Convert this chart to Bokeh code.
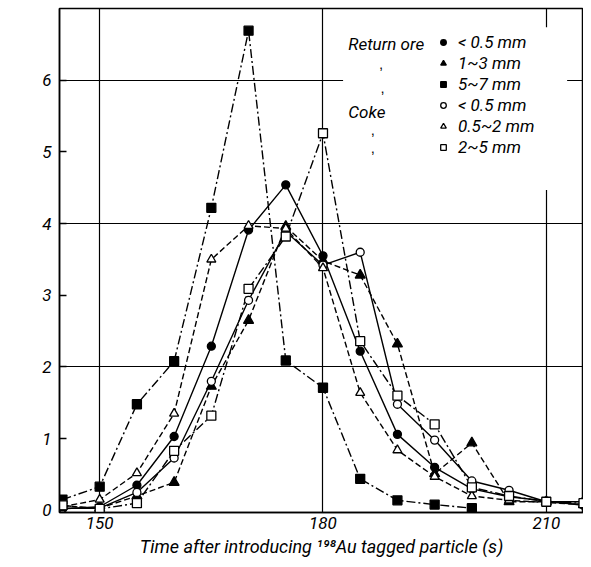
import math
from bokeh.plotting import figure
from bokeh.models import Range1d, FixedTicker, Legend, LegendItem, Label, BoxAnnotation, Grid
from bokeh.embed import file_html
from bokeh.resources import INLINE

# ---- data ----
t_full = [145, 150, 155, 160, 165, 170, 175, 180, 185, 190, 195, 200, 205, 210, 215]
t_short = [145, 150, 155, 160, 165, 170, 175, 180, 185, 190, 195, 200]

ore_lt05 = [0.02, 0.05, 0.35, 1.03, 2.29, 3.91, 4.54, 3.55, 2.22, 1.06, 0.60, 0.30, 0.19, 0.13, 0.07]
ore_1_3 = [0.06, 0.03, 0.20, 0.39, 1.73, 2.65, 3.96, 3.48, 3.28, 2.32, 0.51, 0.94, 0.12, 0.12, 0.08]
ore_5_7 = [0.15, 0.33, 1.48, 2.08, 4.22, 6.69, 2.09, 1.71, 0.44, 0.14, 0.08, 0.03]
coke_lt05 = [0.03, 0.03, 0.25, 0.73, 1.80, 2.93, 3.89, 3.42, 3.60, 1.48, 0.98, 0.41, 0.28, 0.12, 0.12]
coke_05_2 = [0.05, 0.15, 0.52, 1.35, 3.50, 3.97, 3.93, 3.38, 1.64, 0.84, 0.47, 0.20, 0.14, 0.11, 0.08]
coke_2_5 = [0.07, 0.02, 0.10, 0.83, 1.32, 3.09, 3.82, 5.26, 2.36, 1.60, 1.20, 0.32, 0.20, 0.12, 0.10]

legend_labels = ["< 0.5 mm", "1~3 mm", "5~7 mm", "< 0.5 mm", "0.5~2 mm", "2~5 mm"]
x_ticks = [150, 180, 210]
y_ticks = [0, 1, 2, 3, 4, 5, 6]
grid_x = [150, 180, 210]
grid_y = [2, 4, 6]

FONT = "Roboto"
INK = "black"

p = figure(width=583, height=559, output_backend="svg", toolbar_location=None,
           x_range=Range1d(144.6, 215.0), y_range=Range1d(-0.03, 7.0),
           min_border_left=59, min_border_right=0, min_border_top=8, min_border_bottom=45)
p.background_fill_color = "white"
p.border_fill_color = "white"
p.outline_line_color = INK
p.outline_line_width = 1.5

p.xgrid.visible = False
p.ygrid.visible = False
p.add_layout(Grid(dimension=0, ticker=FixedTicker(ticks=grid_x), grid_line_color=INK, grid_line_width=1.2))
p.add_layout(Grid(dimension=1, ticker=FixedTicker(ticks=grid_y), grid_line_color=INK, grid_line_width=1.2))

for ax in (p.xaxis[0], p.yaxis[0]):
    ax.axis_line_color = INK
    ax.axis_line_width = 1.5
    ax.minor_tick_line_color = None
    ax.major_tick_line_color = INK
    ax.major_label_text_font = FONT
    ax.major_label_text_font_style = "italic"
    ax.major_label_text_color = INK
    ax.major_label_text_font_size = "17px"

p.xaxis.ticker = FixedTicker(ticks=x_ticks)
p.xaxis.major_tick_in = 0
p.xaxis.major_tick_out = 0
p.xaxis.major_label_standoff = 4
p.xaxis.axis_label = "Time after introducing \u00b9\u2079\u2078Au tagged particle (s)"
p.xaxis.axis_label_text_font = FONT
p.xaxis.axis_label_text_font_style = "italic"
p.xaxis.axis_label_text_font_size = "18px"
p.xaxis.axis_label_text_color = INK
p.xaxis.axis_label_standoff = 4

p.yaxis.ticker = FixedTicker(ticks=y_ticks)
p.yaxis.major_tick_in = 7
p.yaxis.major_tick_out = 0
p.yaxis.major_tick_line_width = 1.3
p.yaxis.major_label_standoff = 8

# white area behind the legend (gridlines are interrupted there)
p.add_layout(BoxAnnotation(left=182.7, right=212.8, bottom=4.47, top=6.74,
                           fill_color="white", fill_alpha=1.0, line_color=None))

LW = 1.4
series = [
    (t_full, ore_lt05, "solid", "circle", INK, 8),
    (t_full, ore_1_3, "6 3", "triangle", INK, 10),
    (t_short, ore_5_7, "9 3 2 3", "square", INK, 9),
    (t_full, coke_lt05, "solid", "circle", "white", 8),
    (t_full, coke_05_2, "6 3", "triangle", "white", 9),
    (t_full, coke_2_5, "9 3 2 3", "square", "white", 9),
]
items = []
for (xs, ys, dash, marker, fill, sz), lab in zip(series, legend_labels):
    p.line(xs, ys, line_color=INK, line_width=LW, line_dash=dash)
for (xs, ys, dash, marker, fill, sz), lab in zip(series, legend_labels):
    r = p.scatter(xs, ys, marker=marker, size=sz, fill_color=fill, line_color=INK, line_width=1.3)
    items.append(LegendItem(label=lab, renderers=[r]))

legend = Legend(items=items, location=(377, 355), margin=0, padding=4, spacing=0,
                label_height=21, glyph_height=14, glyph_width=14, label_standoff=8,
                label_text_font=FONT, label_text_font_style="italic", label_text_font_size="17px",
                label_text_color=INK,
                background_fill_color="white", background_fill_alpha=1.0, border_line_color=None)
p.add_layout(legend)

# group labels
p.add_layout(Label(x=183.4, y=6.51, text="Return ore", text_font=FONT, text_font_style="italic",
                   text_font_size="17px", text_baseline="middle", text_color=INK))
p.add_layout(Label(x=183.4, y=5.55, text="Coke", text_font=FONT, text_font_style="italic",
                   text_font_size="17px", text_baseline="middle", text_color=INK))
for xx, yy in [(187.8, 6.22), (188.0, 5.89), (186.7, 5.30), (186.7, 5.05)]:
    p.add_layout(Label(x=xx, y=yy, text="\u201a", text_font_size="14px", text_align="center",
                       text_baseline="middle", text_color=INK))

# y axis title
p.add_layout(Label(x=140.3, y=2.8, text="Discharge rate  (%/s)", angle=math.pi / 2,
                   text_font=FONT, text_font_style="italic", text_font_size="18px",
                   text_align="center", text_baseline="middle", text_color=INK))

open("out.html", "w").write(file_html(p, INLINE))
